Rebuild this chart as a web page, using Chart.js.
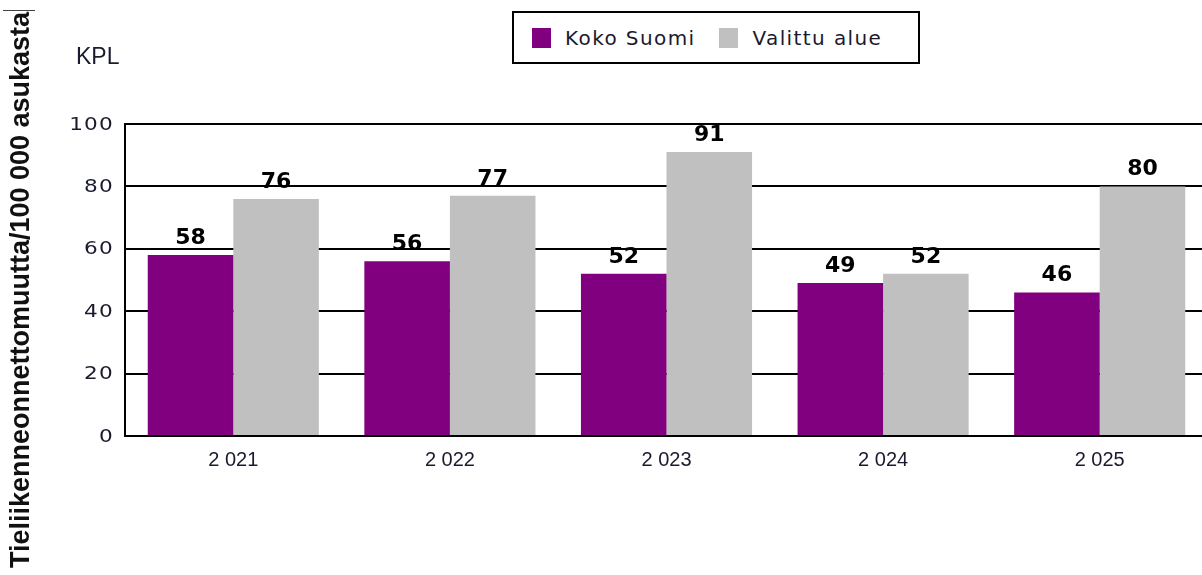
<!DOCTYPE html>
<html>
<head>
<meta charset="utf-8">
<script src="https://cdn.jsdelivr.net/npm/chart.js@4.4.0/dist/chart.umd.min.js"></script>
<style>
    html, body { margin: 0; padding: 0; background: #fff; overflow: hidden; }
    #wrap { position: relative; width: 1202px; height: 575px; overflow: hidden; }
    #accidentChart { position: absolute; left: 0; top: 0; }
    #legend {
        position: absolute; left: 512px; top: 11px; width: 404px; height: 49px;
        border: 2px solid #000; background: #fff;
        font-family: 'DejaVu Sans', Verdana, sans-serif; font-size: 20px;
        letter-spacing: 1.4px; color: #1a1a2e;
        display: flex; align-items: center;
    }
    .legend-item { display: flex; align-items: center; }
    .legend-box { width: 19px; height: 20px; margin-right: 14px; }
</style>
</head>
<body>
<div id="wrap">
    <canvas id="accidentChart" width="1208" height="575"></canvas>
    <div id="legend"></div>
</div>
<script>
// ============================================
// TIELIIKENNEONNETTOMUUDET / 100 000 ASUKASTA
// ============================================

const years = ['2 021', '2 022', '2 023', '2 024', '2 025'];
const kokoSuomi = [58, 56, 52, 49, 46];
const valittuAlue = [76, 77, 91, 52, 80];
const yTicks = [0, 20, 40, 60, 80, 100];

const seriesNames = ['Koko Suomi', 'Valittu alue'];
const seriesColors = ['#800080', '#c0c0c0'];

// Rotated axis title + unit text
const axisTextPlugin = {
    id: 'axisText',
    afterDraw(chart) {
        const ctx = chart.ctx;
        ctx.save();
        ctx.fillStyle = '#111';
        ctx.font = 'bold 27px "Liberation Sans", Arial, sans-serif';
        ctx.translate(22, 290);
        ctx.rotate(-Math.PI / 2);
        ctx.textAlign = 'center';
        ctx.textBaseline = 'middle';
        ctx.fillText('Tieliikenneonnettomuutta/100 000 asukasta', 0, 0);
        ctx.restore();

        ctx.save();
        ctx.strokeStyle = '#444';
        ctx.lineWidth = 1;
        ctx.beginPath();
        ctx.moveTo(3, 10.5);
        ctx.lineTo(35, 10.5);
        ctx.stroke();

        ctx.fillStyle = '#1a1a2e';
        ctx.font = '23px "Liberation Sans", Arial, sans-serif';
        ctx.textAlign = 'left';
        ctx.textBaseline = 'alphabetic';
        ctx.fillText('KPL', 76, 64);
        ctx.restore();
    }
};

// Y tick labels, drawn a little wide
const yLabelPlugin = {
    id: 'yLabels',
    afterDraw(chart) {
        const ctx = chart.ctx;
        const y = chart.scales.y;
        const stretch = 1.2;
        ctx.save();
        ctx.fillStyle = '#1a1a2e';
        ctx.font = '18px "DejaVu Sans", Verdana, sans-serif';
        ctx.letterSpacing = '1px';
        ctx.textAlign = 'right';
        ctx.textBaseline = 'middle';
        ctx.scale(stretch, 1);
        yTicks.forEach(v => {
            ctx.fillText(String(v), 114 / stretch, y.getPixelForValue(v) + 1);
        });
        ctx.restore();
    }
};

// Value labels above bars
const valueLabelPlugin = {
    id: 'valueLabels',
    afterDatasetsDraw(chart) {
        const ctx = chart.ctx;
        ctx.save();
        ctx.fillStyle = '#000';
        ctx.font = 'bold 22px "DejaVu Sans", Verdana, sans-serif';
        ctx.textAlign = 'center';
        ctx.textBaseline = 'alphabetic';
        chart.data.datasets.forEach((ds, i) => {
            chart.getDatasetMeta(i).data.forEach((bar, j) => {
                ctx.fillText(String(ds.data[j]), bar.x, bar.y - 11);
            });
        });
        ctx.restore();
    }
};

const ctx = document.getElementById('accidentChart');

const accidentChart = new Chart(ctx, {
    type: 'bar',
    data: {
        labels: years,
        datasets: [
            { label: seriesNames[0], data: kokoSuomi, backgroundColor: seriesColors[0] },
            { label: seriesNames[1], data: valittuAlue, backgroundColor: seriesColors[1] }
        ]
    },
    options: {
        responsive: false,
        animation: false,
        devicePixelRatio: 1,
        layout: { padding: { top: 124, left: 0, right: 0, bottom: 0 } },
        datasets: {
            bar: { categoryPercentage: 0.79, barPercentage: 1.0, borderWidth: 0 }
        },
        plugins: {
            legend: { display: false },
            tooltip: { enabled: false }
        },
        scales: {
            x: {
                grid: { display: false, drawTicks: false },
                border: { display: true, color: '#000', width: 2 },
                ticks: {
                    color: '#1a1a2e',
                    padding: 12,
                    font: { family: '"Liberation Sans", Arial, sans-serif', size: 20 }
                },
                afterFit(scale) { scale.height = 139; }
            },
            y: {
                min: 0,
                max: 100,
                ticks: { stepSize: 20, display: false },
                grid: { color: '#000', lineWidth: 2, drawTicks: false },
                border: { display: true, color: '#000', width: 2 },
                afterFit(scale) { scale.width = 125; }
            }
        }
    },
    plugins: [axisTextPlugin, yLabelPlugin, valueLabelPlugin]
});

// Legend built from the datasets
const legendEl = document.getElementById('legend');
legendEl.innerHTML = accidentChart.data.datasets.map((ds, i) => `
    <div class="legend-item" style="margin-left:${i === 0 ? 18 : 24}px">
        <div class="legend-box" style="background:${ds.backgroundColor}"></div>
        <span>${ds.label}</span>
    </div>
`).join('');
</script>
</body>
</html>
